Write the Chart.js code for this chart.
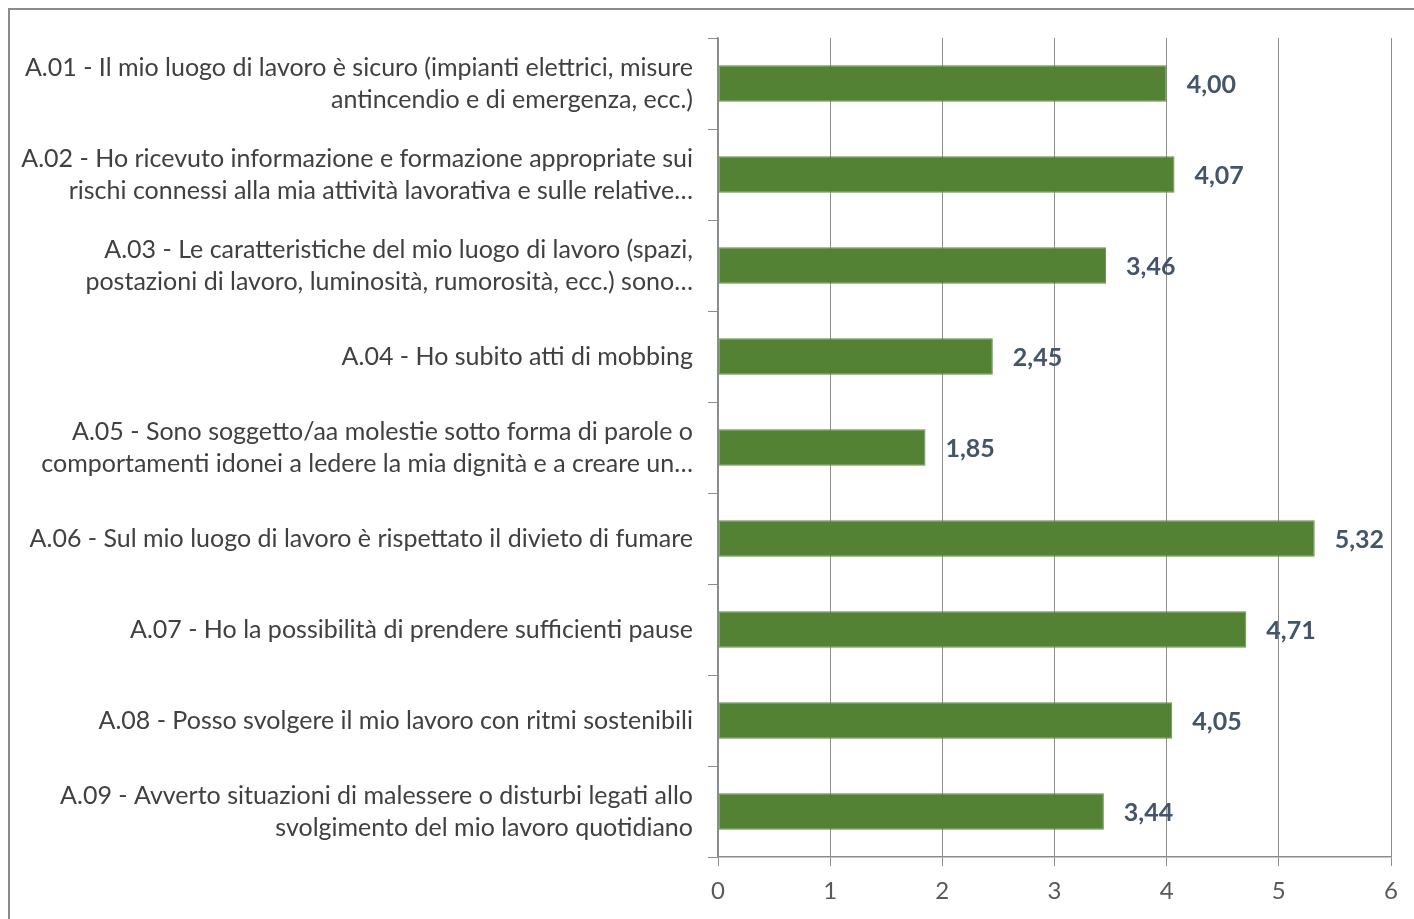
<!DOCTYPE html>
<html lang="it">
<head>
<meta charset="utf-8">
<title>Sicurezza sul luogo di lavoro</title>
<script src="https://cdn.jsdelivr.net/npm/chart.js@4.4.1/dist/chart.umd.min.js"></script>
<style>
  html, body { margin: 0; padding: 0; background: #fff; overflow: hidden; }
  #cornice {
    position: absolute; left: 8px; top: 8px; width: 1420px; height: 930px;
    border-top: 2px solid #8c8c8c; border-left: 2px solid #8c8c8c;
  }
  #grafico { position: absolute; left: 0; top: 0; }
</style>
</head>
<body>
<div id="cornice"></div>
<canvas id="grafico" width="1414" height="919"></canvas>
<script>
// ---- Dati ----
const domande = [
  ["A.01 - Il mio luogo di lavoro è sicuro (impianti elettrici, misure", "antincendio e di emergenza, ecc.)"],
  ["A.02 - Ho ricevuto informazione e formazione appropriate sui", "rischi connessi alla mia attività lavorativa e sulle relative…"],
  ["A.03 - Le caratteristiche del mio luogo di lavoro (spazi,", "postazioni di lavoro, luminosità, rumorosità, ecc.) sono…"],
  "A.04 - Ho subito atti di mobbing",
  ["A.05 - Sono soggetto/aa molestie sotto forma di parole o", "comportamenti idonei a ledere la mia dignità e a creare un…"],
  "A.06 - Sul mio luogo di lavoro è rispettato il divieto di fumare",
  "A.07 - Ho la possibilità di prendere sufficienti pause",
  "A.08 - Posso svolgere il mio lavoro con ritmi sostenibili",
  ["A.09 - Avverto situazioni di malessere o disturbi legati allo", "svolgimento del mio lavoro quotidiano"]
];

const punteggi = [4.00, 4.07, 3.46, 2.45, 1.85, 5.32, 4.71, 4.05, 3.44];

const tickAsse = [0, 1, 2, 3, 4, 5, 6];

// ---- Etichette sui valori ----
const etichetteValori = {
  id: 'etichetteValori',
  afterDatasetsDraw(chart) {
    const ctx = chart.ctx;
    const meta = chart.getDatasetMeta(0);
    ctx.save();
    ctx.font = 'bold 25px Lato';
    ctx.fillStyle = '#44546a';
    ctx.textAlign = 'left';
    ctx.textBaseline = 'middle';
    meta.data.forEach((barra, i) => {
      const testo = punteggi[i].toFixed(2).replace('.', ',');
      ctx.fillText(testo, barra.x + 20, barra.y + 1);
    });
    ctx.restore();
  }
};

// ---- Grafico ----
const grigio = '#8c8c8c';

new Chart(document.getElementById('grafico'), {
  type: 'bar',
  data: {
    labels: domande,
    datasets: [{
      data: punteggi,
      backgroundColor: '#548235',
      borderColor: '#63904a',
      borderWidth: 1,
      borderSkipped: false,
      barPercentage: 0.4,
      categoryPercentage: 1
    }]
  },
  options: {
    indexAxis: 'y',
    responsive: false,
    animation: false,
    layout: { padding: { top: 38, right: 23, left: 0, bottom: 0 } },
    plugins: {
      legend: { display: false },
      tooltip: { enabled: false }
    },
    scales: {
      x: {
        min: 0,
        max: 6,
        afterBuildTicks(scale) {
          scale.ticks = tickAsse.map(v => ({ value: v }));
        },
        afterFit(scale) { scale.height = 62; },
        grid: { color: grigio, lineWidth: 1, tickLength: 9 },
        border: { display: true, color: grigio, width: 1.5 },
        ticks: {
          color: '#595959',
          font: { family: 'Lato', size: 24 },
          padding: 11
        }
      },
      y: {
        afterFit(scale) {
          scale.width = 718;
          scale.paddingTop = 0;
          scale.paddingBottom = 0;
        },
        grid: {
          offset: true,
          drawOnChartArea: false,
          color: grigio,
          tickLength: 10
        },
        border: { display: true, color: grigio, width: 1.5 },
        ticks: {
          color: '#404040',
          font: { family: 'Lato', size: 25, lineHeight: 32 / 25 },
          padding: 15,
          autoSkip: false
        }
      }
    }
  },
  plugins: [etichetteValori]
});
</script>
</body>
</html>
